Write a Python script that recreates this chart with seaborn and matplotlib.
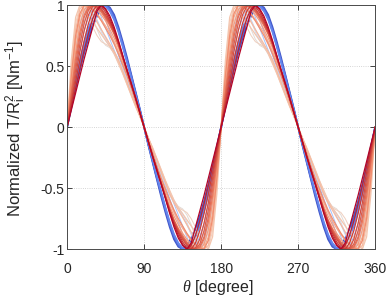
import numpy as np
import seaborn as sns
from matplotlib import pyplot as plt

# torque profiles over one positive lobe, theta = 0..90 deg in 5 deg steps
theta_half = np.arange(0, 95, 5)

colour_pos = [0.02, 0.06, 0.10, 0.14,
              0.25, 0.32, 0.38,
              0.45, 0.52, 0.58,
              0.62, 0.66, 0.70, 0.74, 0.78,
              0.82, 0.85, 0.88, 0.91, 0.94, 0.97, 1.00]

lobes = [
    [0, .16, .32, .47, .61, .73, .83, .91, .97, 1.00, .98, .92, .82, .70, .57, .43, .29, .15, 0],
    [0, .17, .34, .50, .64, .76, .86, .93, .98, 1.00, .97, .90, .80, .68, .55, .42, .28, .14, 0],
    [0, .18, .36, .52, .66, .78, .88, .95, .99, 1.00, .96, .89, .79, .67, .54, .41, .27, .14, 0],
    [0, .19, .38, .55, .69, .81, .90, .96, 1.00, .99, .95, .88, .78, .66, .53, .40, .27, .13, 0],
    [0, .22, .44, .63, .79, .90, .97, 1.00, .98, .88, .78, .69, .59, .49, .39, .29, .20, .10, 0],
    [0, .26, .50, .71, .86, .96, 1.00, .99, .90, .81, .72, .63, .54, .45, .36, .27, .18, .09, 0],
    [0, .30, .58, .80, .94, 1.00, .97, .88, .80, .73, .66, .60, .53, .45, .37, .28, .19, .10, 0],
    [0, .35, .65, .86, .97, 1.00, .95, .87, .78, .71, .66, .62, .56, .48, .39, .30, .20, .10, 0],
    [0, .42, .74, .93, 1.00, .97, .90, .80, .72, .67, .65, .61, .54, .45, .36, .27, .18, .09, 0],
    [0, .50, .85, 1.00, .97, .90, .82, .75, .70, .68, .66, .61, .53, .44, .35, .26, .17, .09, 0],
    [0, .55, .90, 1.00, .96, .91, .86, .81, .76, .71, .66, .60, .52, .44, .35, .26, .17, .09, 0],
    [0, .45, .80, .97, 1.00, .97, .92, .86, .80, .74, .68, .62, .55, .46, .37, .27, .18, .09, 0],
    [0, .38, .70, .90, .99, 1.00, .97, .93, .88, .83, .77, .70, .62, .53, .43, .33, .22, .11, 0],
    [0, .33, .62, .84, .96, 1.00, .99, .96, .92, .87, .80, .73, .65, .55, .45, .34, .23, .12, 0],
    [0, .42, .75, .93, 1.00, .99, .96, .92, .87, .81, .75, .68, .60, .51, .42, .32, .21, .11, 0],
    [0, .30, .57, .78, .92, .99, 1.00, .98, .94, .89, .83, .76, .67, .57, .46, .35, .24, .12, 0],
    [0, .27, .52, .74, .90, .98, 1.00, .98, .95, .90, .84, .77, .68, .57, .46, .35, .24, .12, 0],
    [0, .24, .47, .68, .85, .96, 1.00, .99, .96, .91, .85, .77, .68, .57, .46, .35, .24, .12, 0],
    [0, .21, .42, .62, .79, .92, .99, 1.00, .97, .92, .86, .78, .68, .57, .46, .35, .24, .12, 0],
    [0, .19, .37, .55, .71, .85, .95, 1.00, .99, .94, .87, .79, .69, .58, .46, .35, .24, .12, 0],
    [0, .16, .32, .48, .63, .77, .89, .97, 1.00, .96, .89, .80, .70, .58, .47, .35, .24, .12, 0],
    [0, .14, .28, .42, .56, .69, .82, .95, 1.00, .97, .91, .82, .71, .59, .47, .36, .24, .12, 0],
]

x_ticks = [0, 90, 180, 270, 360]
y_ticks = [-1, -0.5, 0, 0.5, 1]
y_ticklabels = ["-1", "-0.5", "0", "0.5", "1"]

sns.set_style("ticks")
plt.rcParams["font.family"] = ["Liberation Sans", "DejaVu Sans"]
plt.rcParams["mathtext.fontset"] = "custom"
plt.rcParams["mathtext.rm"] = "Liberation Sans"
plt.rcParams["mathtext.it"] = "Liberation Serif:italic"

cmap = sns.color_palette("coolwarm", as_cmap=True)

fig = plt.figure(figsize=(3.9, 2.98), dpi=100)
ax = fig.add_axes([0.172, 0.164, 0.79, 0.819])

# second half of the period mirrors the first, whole period repeats
theta_full = np.concatenate([theta_half, theta_half[1:] + 90])
theta_full = np.concatenate([theta_full, theta_full[1:] + 180])

for c, lobe in zip(colour_pos, lobes):
    half = np.array(lobe)
    period = np.concatenate([half, -half[::-1][1:]])
    y = np.concatenate([period, period[1:]])
    if c < 0.2:
        lw = 1.3
    elif c < 0.6:
        lw = 0.7
    else:
        lw = 0.9
    sns.lineplot(x=theta_full, y=y, color=cmap(c), lw=lw, ax=ax, sort=False)

ax.set_xlim(0, 360)
ax.set_ylim(-1, 1)
ax.set_xticks(x_ticks)
ax.set_yticks(y_ticks)
ax.set_yticklabels(y_ticklabels)
ax.grid(True, ls=":", color="#c8c8c8", lw=0.6)
ax.set_axisbelow(True)
ax.tick_params(direction="in", top=True, right=True, length=3.5, width=0.6,
               labelsize=10, colors="#262626")
ax.tick_params(axis="x", pad=9)
ax.tick_params(axis="y", pad=2)
for s in ax.spines.values():
    s.set_color("#4a4a4a")
    s.set_linewidth(0.7)

ax.set_xlabel(r"$\theta$ [degree]", fontsize=11.5, color="#262626")
ax.set_ylabel(r"Normalized T/R$_\mathrm{i}^\mathrm{2}$ [Nm$^\mathrm{-1}$]",
              fontsize=12, color="#262626")
ax.xaxis.set_label_coords(0.49, -0.118)
ax.yaxis.set_label_coords(-0.127, 0.495)

fig.savefig("out.png", dpi=100)
